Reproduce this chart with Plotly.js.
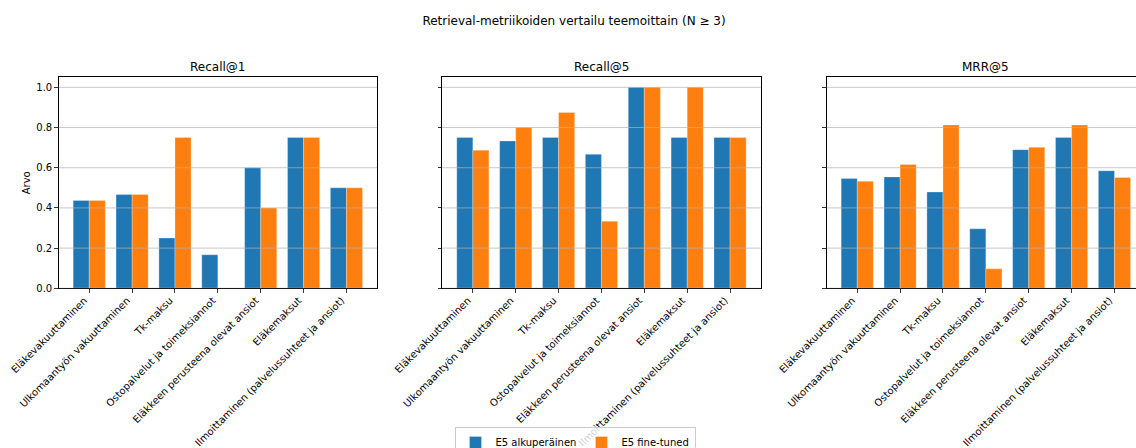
<!DOCTYPE html>
<html>
<head>
<meta charset="utf-8">
<script src="https://cdn.plot.ly/plotly-3.0.1.min.js"></script>
<style>
  html, body { margin: 0; padding: 0; overflow: hidden; background: #fff; }
  #chart { width: 1150px; height: 470px; }
</style>
</head>
<body>
<div id="chart"></div>
<script>
// Themes (N >= 3)
const themes = [
  "Eläkevakuuttaminen",
  "Ulkomaantyön vakuuttaminen",
  "Tk-maksu",
  "Ostopalvelut ja toimeksiannot",
  "Eläkkeen perusteena olevat ansiot",
  "Eläkemaksut",
  "Ilmoittaminen (palvelussuhteet ja ansiot)"
];

const metricNames = ["Recall@1", "Recall@5", "MRR@5"];
const modelNames = ["E5 alkuperäinen", "E5 fine-tuned"];

// Recall@1
const recall1Base  = [0.4375, 0.4667, 0.25, 0.1667, 0.60, 0.75, 0.50];
const recall1Tuned = [0.4375, 0.4667, 0.75, 0.0,    0.40, 0.75, 0.50];

// Recall@5
const recall5Base  = [0.75,   0.7333, 0.75,  0.6667, 1.0, 0.75, 0.75];
const recall5Tuned = [0.6875, 0.80,   0.875, 0.3333, 1.0, 1.0,  0.75];

// MRR@5
const mrr5Base  = [0.5458, 0.5544, 0.4792, 0.2963, 0.6900, 0.75,   0.5847];
const mrr5Tuned = [0.5323, 0.6156, 0.8125, 0.0972, 0.7017, 0.8125, 0.5514];

const yTicks = [0, 0.2, 0.4, 0.6, 0.8, 1.0];

const seriesByMetric = [
  [recall1Base, recall1Tuned],
  [recall5Base, recall5Tuned],
  [mrr5Base, mrr5Tuned]
];

const colors = ["#1f77b4", "#ff7f0e"];
const edgeColor = "rgba(255,255,255,0.45)";

// Figure geometry (pixels)
const W = 1150, H = 470;
const panelLeft = [58.7, 442.3, 826.7];
const panelWidth = 318.3;
const axTop = 77.3, axBottom = 288.3;

const traces = [];
seriesByMetric.forEach((pair, i) => {
  const axSuffix = i === 0 ? "" : String(i + 1);
  pair.forEach((vals, j) => {
    traces.push({
      type: "bar",
      x: themes,
      y: vals,
      name: modelNames[j],
      legendgroup: modelNames[j],
      showlegend: i === 1,
      marker: { color: colors[j], line: { color: edgeColor, width: 0.6 } },
      xaxis: "x" + axSuffix,
      yaxis: "y" + axSuffix,
      hoverinfo: "x+y+name"
    });
  });
});

const tickFont = { family: "DejaVu Sans, sans-serif", size: 10, color: "#000" };
const layout = {
  width: W,
  height: H,
  margin: { l: 0, r: 0, t: 0, b: 0, pad: 0 },
  paper_bgcolor: "#fff",
  plot_bgcolor: "#fff",
  font: { family: "DejaVu Sans, sans-serif", size: 10, color: "#000" },
  barmode: "group",
  bargap: 0.25,
  bargroupgap: 0,
  title: {
    text: "Retrieval-metriikoiden vertailu teemoittain (N ≥ 3)",
    font: { family: "DejaVu Sans, sans-serif", size: 12, color: "#000" },
    x: 574 / W, xanchor: "center", xref: "paper",
    y: 1 - 20.7 / H, yanchor: "middle", yref: "container"
  },
  legend: {
    orientation: "h",
    x: 575 / W, xanchor: "center",
    y: 1 - 427 / H, yanchor: "top",
    bgcolor: "rgba(255,255,255,0.8)",
    bordercolor: "#cccccc",
    borderwidth: 1,
    font: { family: "DejaVu Sans, sans-serif", size: 10, color: "#000" },
    itemwidth: 30,
    traceorder: "normal"
  },
  shapes: [],
  annotations: []
};

const yDomain = [1 - axBottom / H, 1 - axTop / H];
metricNames.forEach((m, i) => {
  const suffix = i === 0 ? "" : String(i + 1);
  const xName = "xaxis" + suffix, yName = "yaxis" + suffix;
  const xDom = [panelLeft[i] / W, (panelLeft[i] + panelWidth) / W];
  layout[xName] = {
    domain: xDom,
    anchor: "y" + suffix,
    type: "category",
    range: [-0.7125, 6.7125],
    showgrid: false,
    zeroline: false,
    showline: true, mirror: true, linecolor: "#000", linewidth: 1,
    ticks: "outside", ticklen: 3.5, tickwidth: 0.8, tickcolor: "#000",
    tickangle: -45,
    ticklabelshift: -5,
    ticklabelstandoff: -2,
    tickfont: tickFont,
    automargin: false
  };
  layout[yName] = {
    domain: yDomain,
    anchor: "x" + suffix,
    range: [0, 1.05],
    tickvals: yTicks,
    ticktext: yTicks.map(v => v.toFixed(1)),
    showticklabels: i === 0,
    showgrid: false,
    zeroline: false,
    showline: true, mirror: true, linecolor: "#000", linewidth: 1,
    ticks: "outside", ticklen: 3.5, tickwidth: 0.8, tickcolor: "#000",
    tickfont: tickFont,
    automargin: false
  };
  if (i === 0) {
    layout[yName].title = { text: "Arvo", font: { size: 10, color: "#000" }, standoff: 3 };
  }
  // horizontal grid drawn over the bars
  yTicks.forEach(v => {
    layout.shapes.push({
      type: "line", layer: "above",
      xref: "x" + suffix + " domain", yref: "y" + suffix,
      x0: 0, x1: 1, y0: v, y1: v,
      line: { color: "rgba(176,176,176,0.7)", width: 1 }
    });
  });
  layout.annotations.push({
    text: m,
    xref: "paper", yref: "paper",
    x: (panelLeft[i] + panelWidth / 2) / W, xanchor: "center",
    y: 1 - 66.7 / H, yanchor: "middle",
    showarrow: false,
    font: { family: "DejaVu Sans, sans-serif", size: 12, color: "#000" }
  });
});

Plotly.newPlot("chart", traces, layout, { staticPlot: true, displayModeBar: false });
</script>
</body>
</html>
